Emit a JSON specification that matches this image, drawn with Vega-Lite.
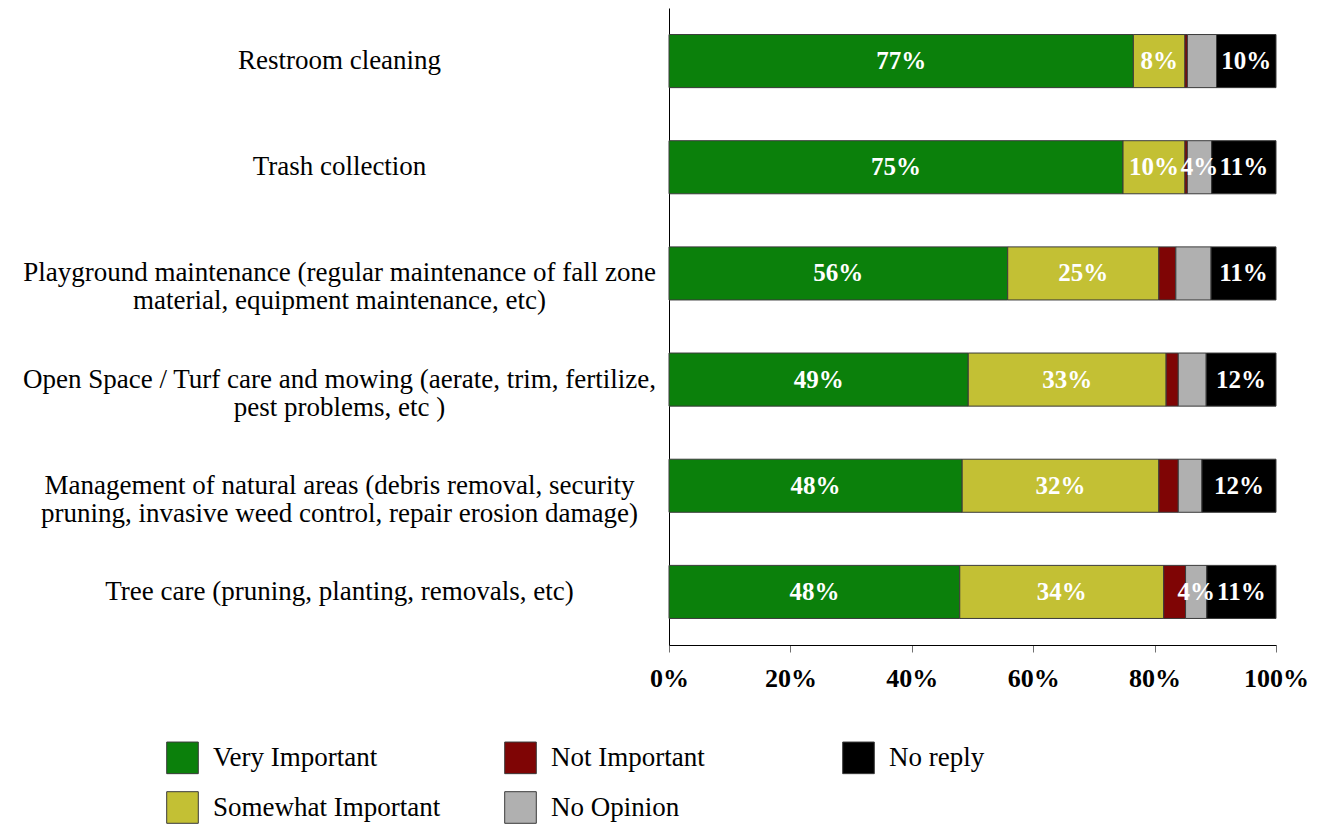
{
  "$schema": "https://vega.github.io/schema/vega-lite/v6.json",
  "autosize": {"type": "none"},
  "padding": {"left": 669, "top": 8, "right": 50, "bottom": 179},
  "width": 607,
  "height": 637,
  "background": "white",
  "config": {
    "font": "Liberation Serif",
    "view": {"stroke": null}
  },
  "data": {
    "values": [
      {"task": "Restroom cleaning", "cat": "Very Important", "k": 1, "v": 76.5, "lbl": "77%"},
      {"task": "Restroom cleaning", "cat": "Somewhat Important", "k": 2, "v": 8.5, "lbl": "8%"},
      {"task": "Restroom cleaning", "cat": "Not Important", "k": 3, "v": 0.4, "lbl": ""},
      {"task": "Restroom cleaning", "cat": "No Opinion", "k": 4, "v": 4.8, "lbl": ""},
      {"task": "Restroom cleaning", "cat": "No reply", "k": 5, "v": 9.8, "lbl": "10%"},
      {"task": "Trash collection", "cat": "Very Important", "k": 1, "v": 74.8, "lbl": "75%"},
      {"task": "Trash collection", "cat": "Somewhat Important", "k": 2, "v": 10.2, "lbl": "10%"},
      {"task": "Trash collection", "cat": "Not Important", "k": 3, "v": 0.4, "lbl": ""},
      {"task": "Trash collection", "cat": "No Opinion", "k": 4, "v": 4.0, "lbl": "4%"},
      {"task": "Trash collection", "cat": "No reply", "k": 5, "v": 10.6, "lbl": "11%"},
      {"task": "Playground maintenance (regular maintenance of fall zone|material, equipment maintenance, etc)", "cat": "Very Important", "k": 1, "v": 55.8, "lbl": "56%"},
      {"task": "Playground maintenance (regular maintenance of fall zone|material, equipment maintenance, etc)", "cat": "Somewhat Important", "k": 2, "v": 24.9, "lbl": "25%"},
      {"task": "Playground maintenance (regular maintenance of fall zone|material, equipment maintenance, etc)", "cat": "Not Important", "k": 3, "v": 2.8, "lbl": ""},
      {"task": "Playground maintenance (regular maintenance of fall zone|material, equipment maintenance, etc)", "cat": "No Opinion", "k": 4, "v": 5.8, "lbl": ""},
      {"task": "Playground maintenance (regular maintenance of fall zone|material, equipment maintenance, etc)", "cat": "No reply", "k": 5, "v": 10.7, "lbl": "11%"},
      {"task": "Open Space / Turf care and mowing (aerate, trim, fertilize,|pest problems, etc )", "cat": "Very Important", "k": 1, "v": 49.3, "lbl": "49%"},
      {"task": "Open Space / Turf care and mowing (aerate, trim, fertilize,|pest problems, etc )", "cat": "Somewhat Important", "k": 2, "v": 32.6, "lbl": "33%"},
      {"task": "Open Space / Turf care and mowing (aerate, trim, fertilize,|pest problems, etc )", "cat": "Not Important", "k": 3, "v": 2.0, "lbl": ""},
      {"task": "Open Space / Turf care and mowing (aerate, trim, fertilize,|pest problems, etc )", "cat": "No Opinion", "k": 4, "v": 4.6, "lbl": ""},
      {"task": "Open Space / Turf care and mowing (aerate, trim, fertilize,|pest problems, etc )", "cat": "No reply", "k": 5, "v": 11.5, "lbl": "12%"},
      {"task": "Management of natural areas (debris removal, security|pruning, invasive weed control, repair erosion damage)", "cat": "Very Important", "k": 1, "v": 48.3, "lbl": "48%"},
      {"task": "Management of natural areas (debris removal, security|pruning, invasive weed control, repair erosion damage)", "cat": "Somewhat Important", "k": 2, "v": 32.4, "lbl": "32%"},
      {"task": "Management of natural areas (debris removal, security|pruning, invasive weed control, repair erosion damage)", "cat": "Not Important", "k": 3, "v": 3.2, "lbl": ""},
      {"task": "Management of natural areas (debris removal, security|pruning, invasive weed control, repair erosion damage)", "cat": "No Opinion", "k": 4, "v": 3.9, "lbl": ""},
      {"task": "Management of natural areas (debris removal, security|pruning, invasive weed control, repair erosion damage)", "cat": "No reply", "k": 5, "v": 12.2, "lbl": "12%"},
      {"task": "Tree care (pruning, planting, removals, etc)", "cat": "Very Important", "k": 1, "v": 47.9, "lbl": "48%"},
      {"task": "Tree care (pruning, planting, removals, etc)", "cat": "Somewhat Important", "k": 2, "v": 33.6, "lbl": "34%"},
      {"task": "Tree care (pruning, planting, removals, etc)", "cat": "Not Important", "k": 3, "v": 3.6, "lbl": ""},
      {"task": "Tree care (pruning, planting, removals, etc)", "cat": "No Opinion", "k": 4, "v": 3.5, "lbl": "4%"},
      {"task": "Tree care (pruning, planting, removals, etc)", "cat": "No reply", "k": 5, "v": 11.4, "lbl": "11%"}
    ]
  },
  "encoding": {
    "y": {
      "field": "task", "type": "nominal", "sort": null,
      "scale": {"paddingInner": 0.5, "paddingOuter": 0.25},
      "axis": {
        "title": null, "ticks": false, "tickSize": 0, "domain": true, "domainColor": "#000000", "domainWidth": 1,
        "labelExpr": "split(datum.value, '|')",
        "labelAlign": "center", "labelBaseline": "middle", "labelPadding": 330,
        "labelLimit": 0, "labelFontSize": 27, "labelColor": "#000000", "labelLineHeight": 28,
        "labelFont": "Liberation Serif"
      }
    },
    "x": {
      "field": "v", "type": "quantitative", "stack": "zero",
      "scale": {"domain": [0, 100], "nice": false},
      "axis": {
        "title": null, "values": [0, 20, 40, 60, 80, 100], "labelExpr": "datum.value + '%'",
        "grid": false, "domainColor": "#000000", "tickColor": "#707070", "tickSize": 7,
        "labelFontSize": 26, "labelFontWeight": "bold", "labelColor": "#000000", "labelPadding": 13,
        "labelFont": "Liberation Serif", "labelFlush": false
      }
    },
    "order": {"field": "k", "type": "quantitative"}
  },
  "layer": [
    {
      "mark": {"type": "bar", "stroke": "#3a3a3a", "strokeWidth": 1},
      "encoding": {
        "color": {
          "field": "cat", "type": "nominal",
          "scale": {
            "domain": ["Very Important", "Not Important", "No reply", "Somewhat Important", "No Opinion"],
            "range": ["#0b800b", "#7f0505", "#000000", "#c3c034", "#b0b0b0"]
          },
          "legend": {
            "title": null, "orient": "none", "legendX": -503, "legendY": 733,
            "columns": 3, "direction": "horizontal", "gridAlign": "all", "columnPadding": 61, "rowPadding": 13,
            "symbolType": "square", "symbolSize": 1000, "symbolStrokeColor": "#3a3a3a", "symbolStrokeWidth": 1,
            "symbolOpacity": 1, "labelFontSize": 27, "labelColor": "#000000", "labelFont": "Liberation Serif",
            "labelOffset": 14, "padding": 0, "labelLimit": 400
          }
        }
      }
    },
    {
      "mark": {"type": "text", "color": "#ffffff", "fontSize": 25, "fontWeight": "bold", "font": "Liberation Serif", "align": "center", "baseline": "middle"},
      "encoding": {
        "x": {"field": "v", "type": "quantitative", "stack": "zero", "bandPosition": 0.5},
        "detail": {"field": "cat", "type": "nominal"},
        "text": {"field": "lbl", "type": "nominal"}
      }
    }
  ]
}
